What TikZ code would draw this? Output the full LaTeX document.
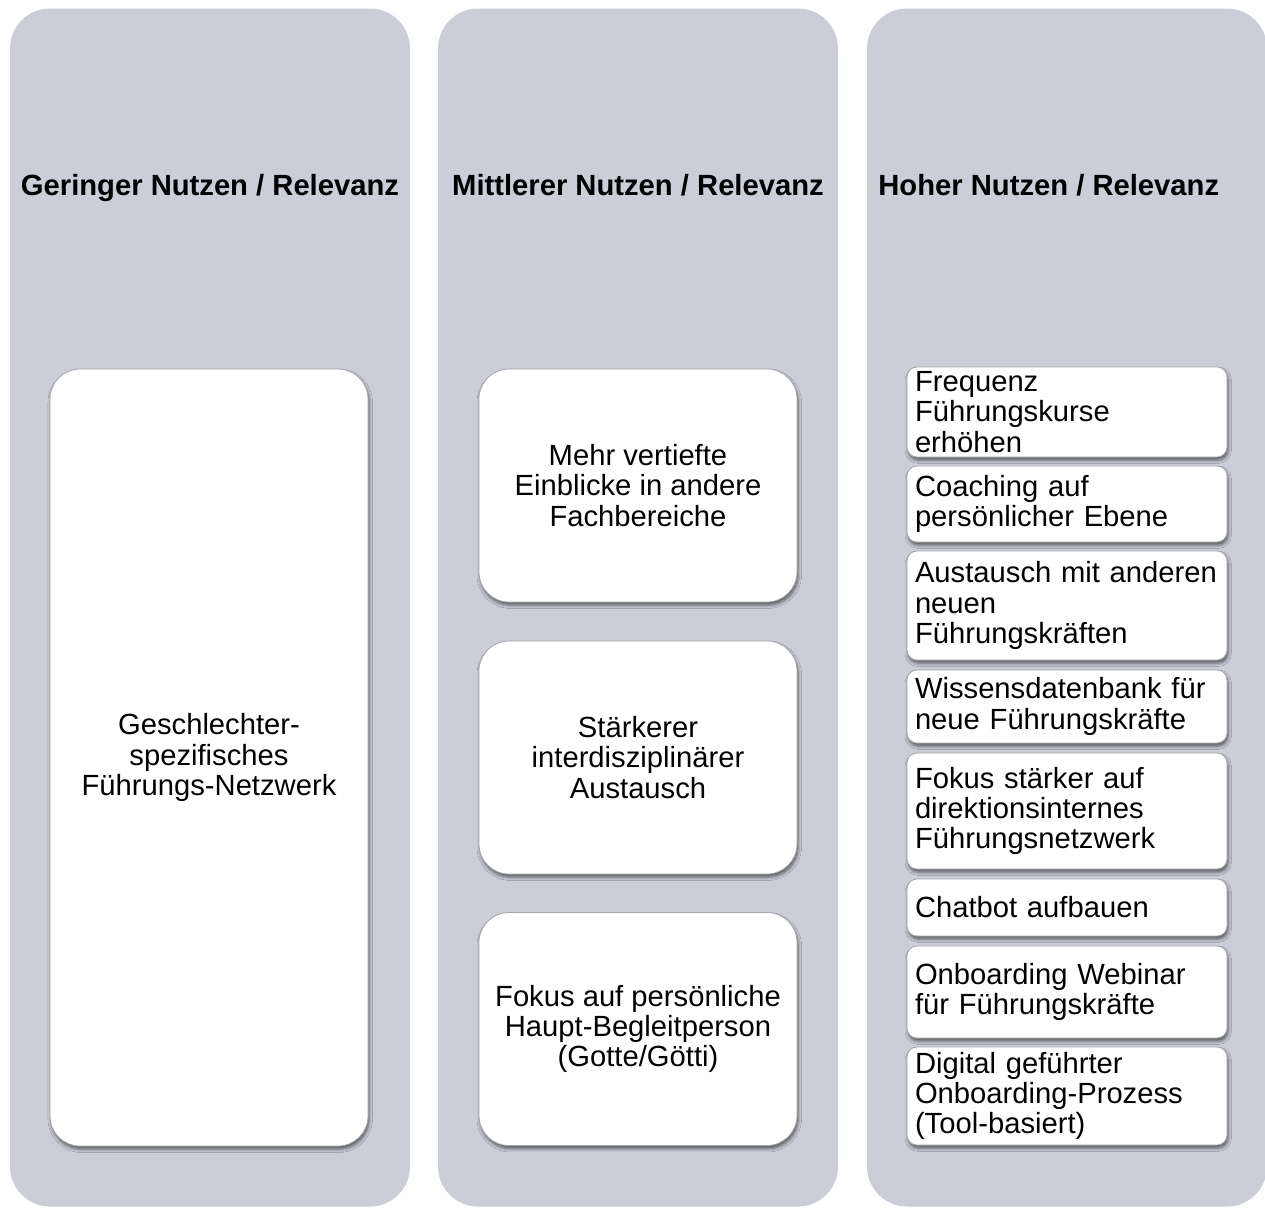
\documentclass[tikz,border=0pt]{standalone}
\usepackage{fontspec}
\setmainfont{Liberation Sans}
\usetikzlibrary{shadows.blur}
\definecolor{colgray}{RGB}{203,206,215}
\newcommand{\boxfont}{\fontsize{14.6}{15.2}\selectfont}
\begin{document}
\begin{tikzpicture}[x=0.5pt, y=-0.5pt,
    column/.style={fill=colgray, rounded corners=20pt, minimum width=200pt, minimum height=599pt, inner sep=0pt},
    header/.style={font=\bfseries\boxfont, inner sep=0pt},
    cardshadow/.style={blur shadow={shadow xshift=0.6pt, shadow yshift=-1.6pt, shadow blur radius=1.6pt, shadow opacity=55}},
    bigbox/.style={cardshadow, fill=white, draw=gray!70, line width=0.4pt, rounded corners=15pt, minimum width=159pt, align=center, font=\boxfont},
    smallbox/.style={cardshadow, fill=white, draw=gray!70, line width=0.4pt, rounded corners=5pt, text width=152pt, inner xsep=4pt, inner ysep=0pt, align=left, font=\boxfont}]
    \useasboundingbox (0,0) rectangle (1265,1207);

    % Columns
    \node[column] (lowcol) at (210,607.5) {};
    \node[column] (midcol) at (638,607.5) {};
    \node[column] (highcol) at (1067,607.5) {};

    % Headers
    \node[header, anchor=base] (lowhead) at (210,195) {Geringer Nutzen / Relevanz};
    \node[header, anchor=base] (midhead) at (638,195) {Mittlerer Nutzen / Relevanz};
    \node[header, anchor=base west] (highhead) at (878,195) {Hoher Nutzen / Relevanz};

    % Low relevance
    \node[bigbox, minimum height=388.5pt] (netzwerk) at (209,757.5) {Geschlechter-\\spezifisches\\Führungs-Netzwerk};

    % Medium relevance
    \node[bigbox, minimum height=116.5pt] (einblicke) at (638,485.5) {Mehr vertiefte\\Einblicke in andere\\Fachbereiche};
    \node[bigbox, minimum height=116.5pt] (interdisz) at (638,757.5) {Stärkerer\\interdisziplinärer\\Austausch};
    \node[bigbox, minimum height=116.5pt] (begleit) at (638,1029) {Fokus auf persönliche\\Haupt-Begleitperson\\(Gotte/Götti)};

    % High relevance
    \node[smallbox, minimum height=45pt] (frequenz) at (1067,412) {Frequenz\\Führungskurse\\erhöhen};
    \node[smallbox, minimum height=38pt] (coaching) at (1067,504) {Coaching auf\\persönlicher Ebene};
    \node[smallbox, minimum height=54.5pt] (austausch) at (1067,605.5) {Austausch mit anderen\\neuen\\Führungskräften};
    \node[smallbox, minimum height=36.5pt] (wissen) at (1067,706.5) {Wissensdatenbank für\\neue Führungskräfte};
    \node[smallbox, minimum height=58pt] (direktion) at (1067,811) {Fokus stärker auf\\direktionsinternes\\Führungsnetzwerk};
    \node[smallbox, minimum height=28.5pt] (chatbot) at (1067,907.5) {Chatbot aufbauen};
    \node[smallbox, minimum height=46pt] (webinar) at (1067,992) {Onboarding Webinar\\für Führungskräfte};
    \node[smallbox, minimum height=49pt] (prozess) at (1067,1096) {Digital geführter\\Onboarding-Prozess\\(Tool-basiert)};

\end{tikzpicture}
\end{document}
